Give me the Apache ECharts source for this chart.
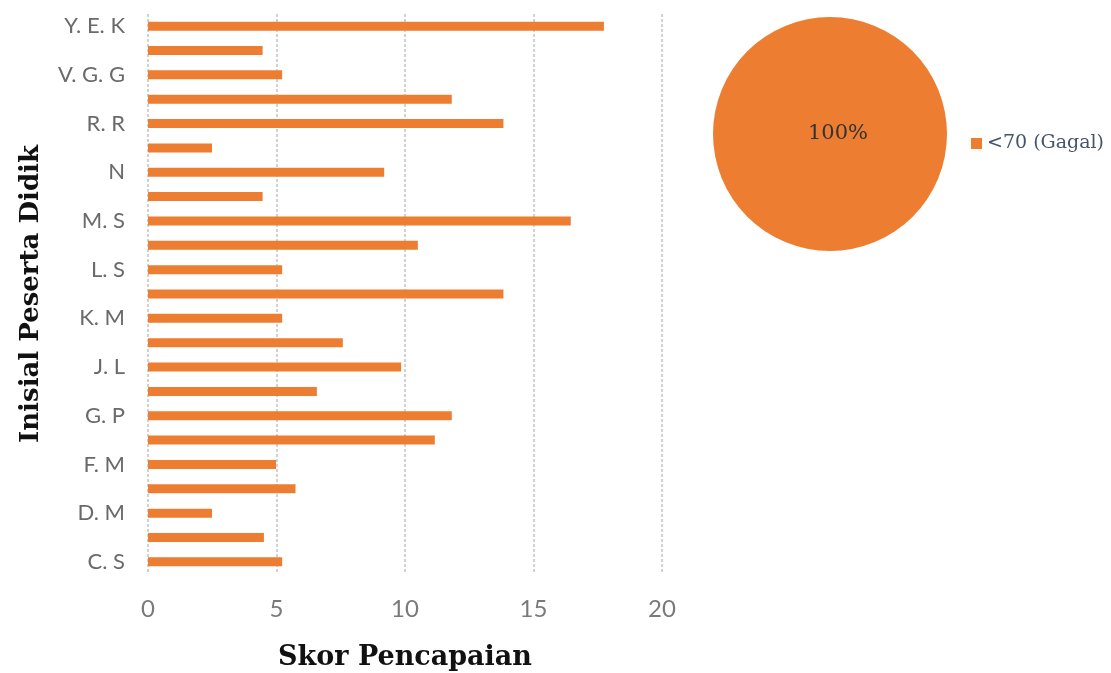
<!DOCTYPE html>
<html>
<head>
<meta charset="utf-8">
<script src="https://cdn.jsdelivr.net/npm/echarts@6/dist/echarts.min.js"></script>
<style>
  html, body { margin: 0; padding: 0; background: #fff; }
  #chart { width: 1111px; height: 673px; }
</style>
</head>
<body>
<div id="chart"></div>
<script>
// categories from bottom to top; the unlabeled rows are hidden by the axis label interval
const pesertaDidik = ['C. S', '', 'D. M', '', 'F. M', '', 'G. P', '', 'J. L', '', 'K. M', '',
    'L. S', '', 'M. S', '', 'N', '', 'R. R', '', 'V. G. G', '', 'Y. E. K'];
const skorPencapaian = [5.22, 4.51, 2.49, 5.74, 4.98, 11.16, 11.82, 6.57, 9.85, 7.58, 5.22, 13.83,
    5.22, 10.5, 16.45, 4.46, 9.19, 2.49, 13.83, 11.82, 5.22, 4.46, 17.74];
const xTicks = [0, 5, 10, 15, 20];
const kategori = ['<70 (Gagal)'];
const persenKategori = [100];

const orange = '#ED7D31';
const chart = echarts.init(document.getElementById('chart'));

const option = {
    animation: false,
    color: [orange],
    grid: {
        left: 148,
        top: 14,
        width: 514,
        height: 560,
        outerBoundsMode: 'none'
    },
    legend: {
        data: kategori,
        left: 966,
        top: 129,
        icon: 'rect',
        itemWidth: 11,
        itemHeight: 11,
        itemGap: 6,
        textStyle: {
            color: '#44546A',
            fontSize: 19,
            fontFamily: 'DejaVu Serif'
        }
    },
    xAxis: {
        type: 'value',
        min: xTicks[0],
        max: xTicks[xTicks.length - 1],
        interval: 5,
        name: 'Skor Pencapaian',
        nameLocation: 'middle',
        nameGap: 70,
        nameTextStyle: {
            color: '#111',
            fontSize: 27,
            fontWeight: 'bold',
            fontFamily: 'DejaVu Serif'
        },
        axisLine: { show: false },
        axisTick: { show: false },
        axisLabel: {
            color: '#7a7a7a',
            fontSize: 24,
            fontFamily: 'Lato',
            margin: 23
        },
        splitLine: {
            show: true,
            lineStyle: { color: '#c4c4c4', width: 1.5, type: [3, 2] }
        }
    },
    yAxis: {
        type: 'category',
        data: pesertaDidik,
        name: 'Inisial Peserta Didik',
        nameLocation: 'middle',
        nameGap: 104,
        nameRotate: 90,
        nameTextStyle: {
            color: '#111',
            fontSize: 26,
            fontWeight: 'bold',
            fontFamily: 'DejaVu Serif'
        },
        axisLine: { show: false },
        axisTick: { show: false },
        axisLabel: {
            interval: 1,
            color: '#6a6a6a',
            fontSize: 22,
            fontFamily: 'Lato',
            margin: 23
        }
    },
    series: [
        {
            type: 'bar',
            data: skorPencapaian,
            barWidth: 9,
            itemStyle: { color: orange },
            silent: true
        },
        {
            type: 'pie',
            center: [830, 134],
            radius: 117,
            startAngle: 90,
            label: {
                position: 'center',
                formatter: '{d}%',
                color: '#333',
                fontSize: 21,
                fontFamily: 'DejaVu Serif',
                padding: [4, 0, 0, 16]
            },
            labelLine: { show: false },
            itemStyle: { color: orange },
            data: kategori.map((k, i) => ({ name: k, value: persenKategori[i] }))
        }
    ]
};

chart.setOption(option);
</script>
</body>
</html>
